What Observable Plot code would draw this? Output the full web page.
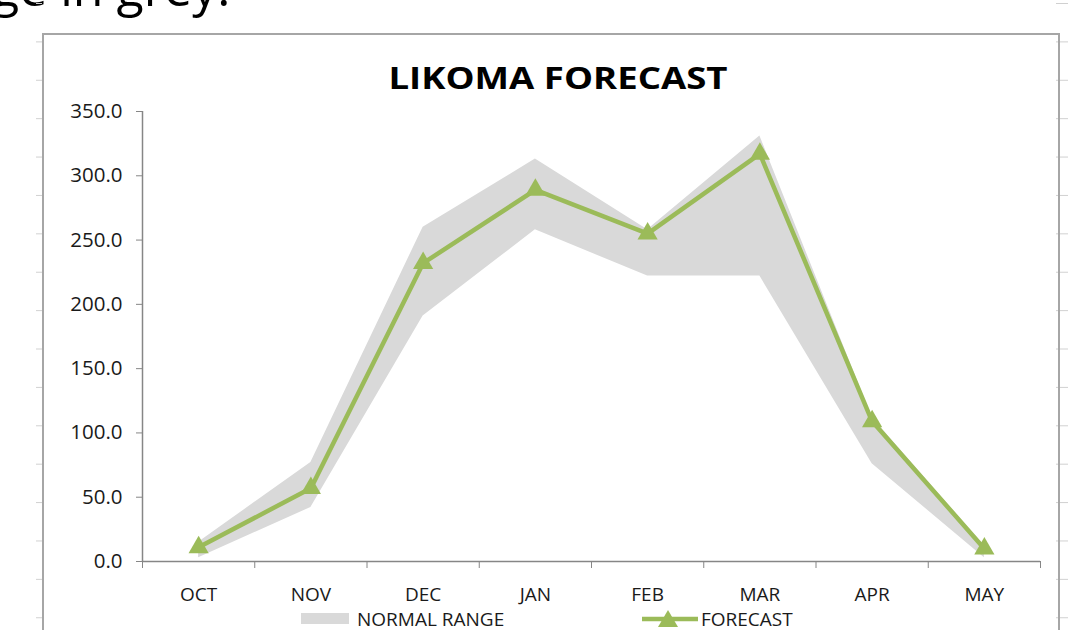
<!DOCTYPE html>
<html>
<head>
<meta charset="utf-8">
<script src="https://cdn.jsdelivr.net/npm/d3@7"></script>
<script src="https://cdn.jsdelivr.net/npm/@observablehq/plot@0.6"></script>
<style>
  html, body { margin: 0; padding: 0; background: #fff; width: 1075px; height: 630px; overflow: hidden; position: relative; font-family: "Open Sans", sans-serif; }
  #toptext { position: absolute; left: -8px; top: -38px; font-size: 50px; line-height: 1; color: #000; white-space: nowrap; }
  #frame { position: absolute; left: 42px; top: 33px; width: 1014px; height: 640px; border: 2px solid #a6a6a6; border-bottom: none; }
  .grid { position: absolute; top: 3px; width: 12px; height: 627px;
    background-image: linear-gradient(to bottom, #d0d0d0 0px, #d0d0d0 1px, transparent 1px);
    background-size: 12px 38.4px; }
  #chart { position: absolute; left: 0; top: 0; }
  #title { position: absolute; left: 0; width: 1116px; top: 56px; text-align: center; font-weight: 700; font-size: 31px; color: #000; transform: scaleX(1.18); transform-origin: 558px 0; }
  .leg { position: absolute; top: 609px; font-size: 19px; color: #1a1a1a; line-height: 20px; white-space: nowrap; }
  #sw1 { position: absolute; left: 301px; top: 613px; width: 48px; height: 11px; background: #d9d9d9; }
  #sw2 { position: absolute; left: 640px; top: 607px; }
</style>
</head>
<body>
<div id="toptext">ge in grey.</div>
<div class="grid" style="left:1056px"></div>
<div class="grid" style="left:36px; width:6px"></div>
<div id="frame"></div>
<div id="chart"></div>
<div id="title">LIKOMA FORECAST</div>
<div id="sw1"></div>
<div class="leg" style="left:357px">NORMAL RANGE</div>
<svg id="sw2" width="60" height="24"><line x1="2" y1="12" x2="58" y2="12" stroke="#9bbb59" stroke-width="4.5"/><path d="M28,3 L38,20 L18,20 Z" fill="#9bbb59"/></svg>
<div class="leg" style="left:701px">FORECAST</div>
<script>
// ---- data ----
const months = ["OCT", "NOV", "DEC", "JAN", "FEB", "MAR", "APR", "MAY"];
const forecast = [11, 57, 232, 289, 255, 317, 109, 10];
const normalLow = [3, 42, 191, 258, 222, 222, 76, 3];
const normalHigh = [15, 77, 260, 313, 258, 331, 112, 12];
const yTicks = [0, 50, 100, 150, 200, 250, 300, 350];

const data = months.map((m, i) => ({i, m, f: forecast[i], lo: normalLow[i], hi: normalHigh[i]}));
const boundaries = d3.range(-0.5, months.length, 1);

const axisColor = "#868686";
const green = "#9bbb59";

const plot = Plot.plot({
  width: 1075,
  height: 630,
  marginLeft: 142,
  marginRight: 35,
  marginTop: 111,
  marginBottom: 69,
  style: {fontFamily: "'Open Sans', sans-serif", background: "transparent", color: "#1a1a1a"},
  x: {type: "linear", domain: [-0.5, months.length - 0.5]},
  y: {domain: [0, 350]},
  marks: [
    Plot.areaY(data, {x: "i", y1: "lo", y2: "hi", fill: "#d9d9d9"}),
    Plot.ruleX([-0.5], {y1: 0, y2: 350, stroke: axisColor, strokeWidth: 1.5}),
    Plot.ruleY([0], {x1: -0.5, x2: months.length - 0.5, stroke: axisColor, strokeWidth: 1.5}),
    Plot.axisY({ticks: yTicks, tickFormat: d3.format(".1f"), tickSize: 6, tickPadding: 14, fontSize: 20.5, stroke: axisColor, fill: "#1a1a1a", label: null}),
    Plot.axisX({ticks: boundaries, tickSize: 7, tickFormat: () => "", stroke: axisColor, label: null}),
    Plot.axisX({ticks: d3.range(months.length), tickSize: 0, tickPadding: 26, tickFormat: i => months[i], fontSize: 19, fill: "#1a1a1a", label: null}),
    Plot.line(data, {x: "i", y: "f", stroke: green, strokeWidth: 4.5}),
    Plot.dot(data, {x: "i", y: "f", symbol: "triangle", r: 7.5, fill: green, stroke: "none"})
  ]
});
document.getElementById("chart").appendChild(plot);
</script>
</body>
</html>
